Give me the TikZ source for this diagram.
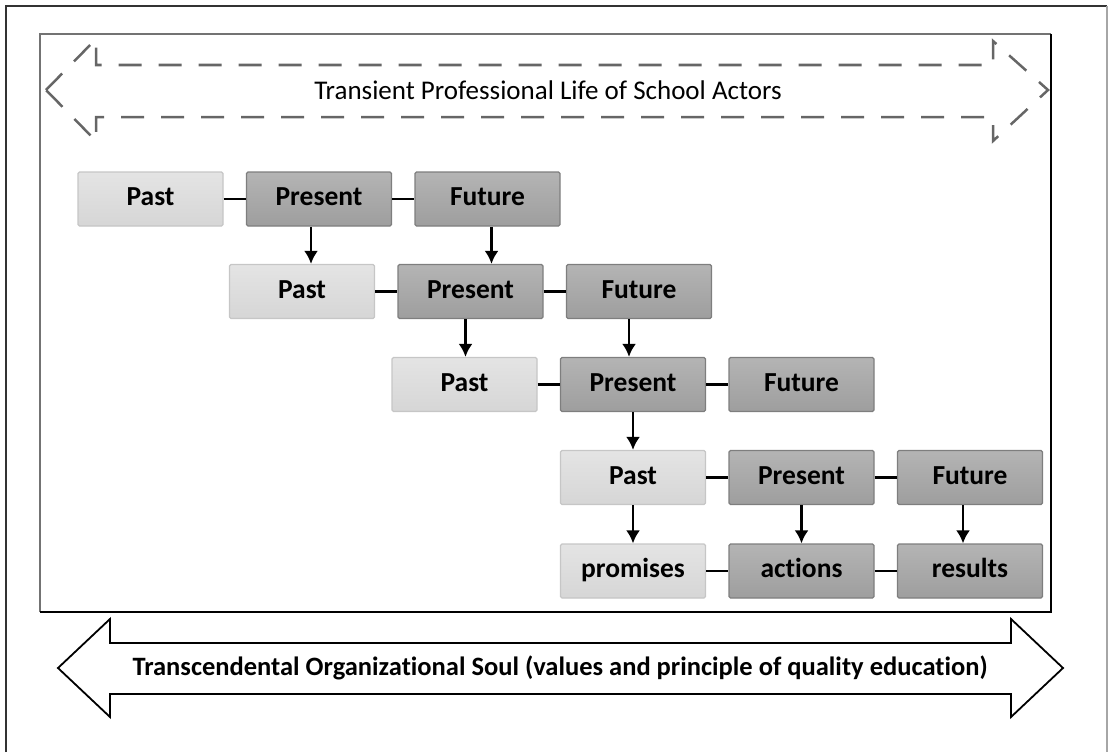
\documentclass[tikz,border=0pt]{standalone}
\usepackage{fontspec}
\setmainfont{Carlito}[Ligatures=NoCommon]
\usepackage{tikz}
\usetikzlibrary{shapes,arrows,arrows.meta,positioning,calc}
\definecolor{pasttop}{HTML}{E4E4E4}
\definecolor{pastbot}{HTML}{D6D6D6}
\definecolor{pastedge}{HTML}{C6C6C6}
\definecolor{blocktop}{HTML}{B4B4B4}
\definecolor{blockbot}{HTML}{9E9E9E}
\definecolor{blockedge}{HTML}{7E7E7E}
\definecolor{framedark}{HTML}{333333}
\newcommand{\boxfont}{\fontsize{27.5}{30}\selectfont\bfseries}
\tikzset{
past/.style = {draw=pastedge, line width=1.2pt, top color=pasttop, bottom color=pastbot, rectangle, rounded corners=1.5pt, minimum height=54pt, minimum width=145pt, text height=18.5pt, text depth=5pt, font=\boxfont},
block/.style = {draw=blockedge, line width=1.2pt, top color=blocktop, bottom color=blockbot, rectangle, rounded corners=1.5pt, minimum height=54pt, minimum width=145pt, text height=18.5pt, text depth=5pt, font=\boxfont},
link/.style = {draw, line width=2.2pt},
flow/.style = {draw, ->, line width=2.8pt},
banner/.style = {draw, line width=1.8pt, fill=white, line join=miter},
dashbanner/.style = {draw=black!60, line width=2.5pt, dash pattern=on 23pt off 17pt}
}

\begin{document}
\begin{tikzpicture}[x=1pt, y=-1pt, node distance=168.5pt, >={Latex[length=13pt,width=14pt]}]
    \useasboundingbox (0,0) rectangle (1110,752);

    % frames
    \draw [line width=2.5pt, framedark] (6,752) -- (6,6) -- (1107,6);
    \draw [line width=1.2pt, black!35] (1107,6) -- (1107,752);
    \draw [line width=1.5pt, black!55] (40,612) -- (40,34) -- (1051,34);
    \draw [line width=2.5pt] (1051,34) -- (1051,612) -- (40,612);

    % transient life
    \draw [dashbanner] (46,90) -- (96,39) -- (96,65) -- (993,65) -- (993,41) -- (1048,90)
        -- (993,141) -- (993,117) -- (96,117) -- (96,141) -- cycle;
    \node [font=\fontsize{27}{30}\selectfont] (life) at (548,90) {Transient Professional Life of School Actors};

    \node [past] (past1) at (150.5,199) {Past};
    \node [block, right of=past1] (pres1) {Present};
    \node [block, right of=pres1] (fut1) {Future};

    \node [past, below of=pres1, node distance=92.5pt, xshift=-17pt] (past2) {Past};
    \node [block, right of=past2] (pres2) {Present};
    \node [block, right of=pres2] (fut2) {Future};

    \node [past, below of=pres2, node distance=93pt, xshift=-6pt] (past3) {Past};
    \node [block, right of=past3] (pres3) {Present};
    \node [block, right of=pres3] (fut3) {Future};

    \node [past, below of=pres3, node distance=93pt] (past4) {Past};
    \node [block, right of=past4] (pres4) {Present};
    \node [block, right of=pres4] (fut4) {Future};

    \node [past, below of=past4, node distance=93.5pt] (prom) {promises};
    \node [block, right of=prom] (act) {actions};
    \node [block, right of=act] (res) {results};

    \draw [link] (past1) -- (pres1);
    \draw [link] (pres1) -- (fut1);
    \draw [link] (past2) -- (pres2);
    \draw [link] (pres2) -- (fut2);
    \draw [link] (past3) -- (pres3);
    \draw [link] (pres3) -- (fut3);
    \draw [link] (past4) -- (pres4);
    \draw [link] (pres4) -- (fut4);
    \draw [link] (prom) -- (act);
    \draw [link] (act) -- (res);

    \draw [flow] ([xshift=-8pt]pres1.south) -- ([xshift=-8pt]pres1.south |- past2.north);
    \draw [flow] ([xshift=4pt]fut1.south) -- ([xshift=4pt]fut1.south |- pres2.north);
    \draw [flow] ([xshift=-5pt]pres2.south) -- ([xshift=-5pt]pres2.south |- past3.north);
    \draw [flow] ([xshift=-10pt]fut2.south) -- ([xshift=-10pt]fut2.south |- pres3.north);
    \draw [flow] (pres3.south) -- (pres3.south |- past4.north);
    \draw [flow] (past4) -- (prom);
    \draw [flow] (pres4) -- (act);
    \draw [flow] ([xshift=-7pt]fut4.south) -- ([xshift=-7pt]fut4.south |- res.north);

    % organizational soul
    \draw [banner] (58,668) -- (110,619) -- (110,643) -- (1011,643) -- (1011,619) -- (1063,668)
        -- (1011,717) -- (1011,694) -- (110,694) -- (110,717) -- cycle;
    \node [font=\fontsize{26.5}{30}\selectfont\bfseries] (soul) at (560,668) {Transcendental Organizational Soul (values and principle of quality education)};
\end{tikzpicture}
\end{document}
